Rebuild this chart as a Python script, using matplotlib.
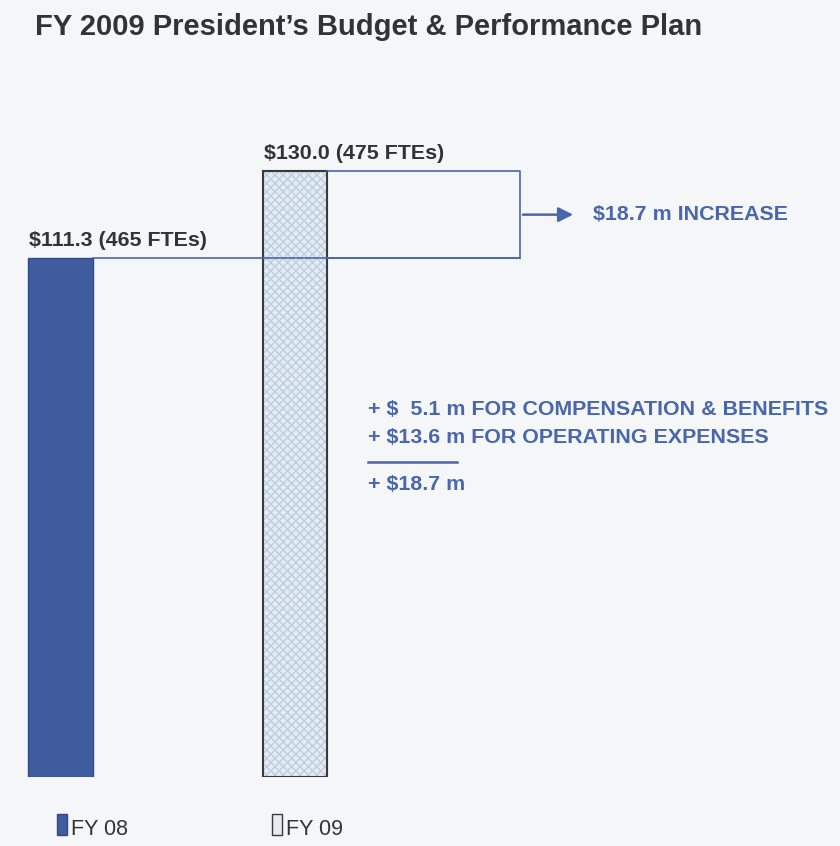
import matplotlib.pyplot as plt
from matplotlib.patches import Rectangle

# datos
years = ['FY 08', 'FY 09']
budget = [111.3, 130.0]
ftes = [465, 475]
bar_labels = ['$111.3 (465 FTEs)', '$130.0 (475 FTEs)']
increase = 18.7
breakdown = ['+ $  5.1 m FOR COMPENSATION & BENEFITS',
             '+ $13.6 m FOR OPERATING EXPENSES']
total_label = '+ $18.7 m'
title = 'FY 2009 President\u2019s Budget & Performance Plan'

bg = '#f5f6f8'
dark_blue = '#3f5c9f'
line_blue = '#4a67ab'
txt_grey = '#333333'
fs = 15.4

fig = plt.figure(figsize=(8.4, 8.46), dpi=100, facecolor=bg)
# ejes: el cero de los datos en y=777 px
ax = fig.add_axes([0, 69 / 846, 1, 777 / 846])
ax.set_facecolor(bg)
ax.set_xlim(-0.258, 3.324)
ax.set_ylim(0, 166.7)
ax.axis('off')

x = [0, 1]
w = 0.277
ax.bar(x[0], budget[0], width=w, color=dark_blue, edgecolor='#2f4a86', linewidth=1)
ax.bar(x[1], budget[1], width=w, color='#e4ecf1', edgecolor='#bccfe0', hatch='xxxx', linewidth=0)
ax.bar(x[1], budget[1], width=w, fill=False, edgecolor='#3a3a3a', linewidth=1.5)

# etiquetas de las barras
for xi, b, lab in zip(x, budget, bar_labels):
    ax.text(xi - w / 2 + 0.005, b + 2.6, lab, ha='left', va='baseline', fontsize=fs,
            fontweight='bold', color=txt_grey, family='Liberation Sans')

# caja del incremento
right = 1.96
ax.plot([x[0] + w / 2, right], [budget[0], budget[0]], color=line_blue, lw=1.2)
ax.plot([x[1] + w / 2, right, right, x[1] + w / 2], [budget[1], budget[1], budget[0], budget[0]],
        color=line_blue, lw=1.2)
mid = budget[0] + increase / 2
ax.annotate('', xy=(2.198, mid), xytext=(right, mid),
            arrowprops=dict(arrowstyle='-|>', color=line_blue, lw=1.8, mutation_scale=22))
ax.text(2.27, mid, f'${increase} m INCREASE', ha='left', va='center', fontsize=fs,
        fontweight='bold', color=line_blue, family='Liberation Sans')

# desglose
bx = 1.312
ax.text(bx, 78.9, breakdown[0], ha='left', va='center', fontsize=fs,
        fontweight='bold', color=line_blue, family='Liberation Sans')
ax.text(bx, 72.9, breakdown[1], ha='left', va='center', fontsize=fs,
        fontweight='bold', color=line_blue, family='Liberation Sans')
ax.plot([bx, 1.692], [67.6, 67.6], color=line_blue, lw=1.8)
ax.text(bx, 62.7, total_label, ha='left', va='center', fontsize=fs,
        fontweight='bold', color=line_blue, family='Liberation Sans')

# título
fig.text(35 / 840, 1 - 35 / 846, title, ha='left', va='baseline', fontsize=21,
         fontweight='bold', color=txt_grey, family='Liberation Sans')

# leyenda manual
leg = [(57, dark_blue, '#2f4a86'), (272, '#e4ecf1', '#3a3a3a')]
for (px, fc, ec), name in zip(leg, years):
    fig.add_artist(Rectangle((px / 840, 1 - 835 / 846), 10 / 840, 21 / 846,
                             facecolor=fc, edgecolor=ec, lw=1, transform=fig.transFigure))
    fig.text((px + 14) / 840, 1 - 835 / 846, name, ha='left', va='baseline', fontsize=15.5,
             color=txt_grey, family='Liberation Sans')

fig.savefig('out.png', dpi=100, facecolor=bg)
